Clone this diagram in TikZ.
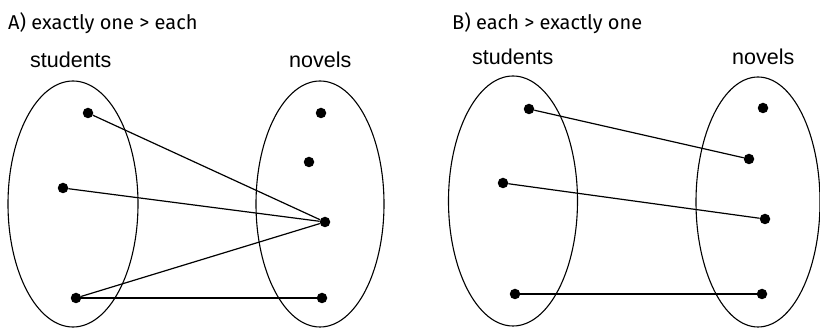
\documentclass[tikz,border=0pt]{standalone}
\usepackage{fontspec}
\setmainfont{Liberation Sans}
\newfontfamily\titlefont{Fira Sans}
\usepackage{tikz}

\begin{document}
\begin{tikzpicture}[
      x=1pt, y=-1pt,
      heading/.style={anchor=base west, inner sep=0pt, font=\titlefont\fontsize{20}{22}\selectfont},
      setname/.style={anchor=base west, inner sep=0pt, font=\fontsize{21.5}{24}\selectfont},
      setline/.style={line width=1.1pt},
      dot/.style={circle, fill=black, inner sep=0pt, minimum size=10.5pt},
      link/.style={line width=1.2pt}
  ]
    \useasboundingbox (0,0) rectangle (820,328);
    % panel A
    \node[heading] (titleA) at (8,30) {A) exactly one > each};
    \node[setname] (studA) at (30,68) {students};
    \node[setname] (novA) at (289,68) {novels};
    \draw[setline] (73,204) ellipse [x radius=65, y radius=123];
    \draw[setline] (320,204) ellipse [x radius=64, y radius=123];
    \node[dot] (sA1) at (88,113) {};
    \node[dot] (sA2) at (63,188) {};
    \node[dot] (sA3) at (76,298) {};
    \node[dot] (nA1) at (321,113) {};
    \node[dot] (nA2) at (309,162) {};
    \node[dot] (nA3) at (325,222) {};
    \node[dot] (nA4) at (322,298) {};
    \draw[link] (sA1) -- (nA3);
    \draw[link] (sA2) -- (nA3);
    \draw[link] (sA3) -- (nA3);
    \draw[link] (sA3) -- (nA4);
    % panel B
    \node[heading] (titleB) at (452,30) {B) each > exactly one};
    \node[setname] (studB) at (472,65) {students};
    \node[setname] (novB) at (732,65) {novels};
    \draw[setline] (513,201) ellipse [x radius=64.5, y radius=125];
    \draw[setline] (758,202) ellipse [x radius=62, y radius=125];
    \node[dot] (sB1) at (529,109) {};
    \node[dot] (sB2) at (503,183) {};
    \node[dot] (sB3) at (515,294) {};
    \node[dot] (nB1) at (763,108) {};
    \node[dot] (nB2) at (749,159) {};
    \node[dot] (nB3) at (765,219) {};
    \node[dot] (nB4) at (762,294) {};
    \draw[link] (sB1) -- (nB2);
    \draw[link] (sB2) -- (nB3);
    \draw[link] (sB3) -- (nB4);
  \end{tikzpicture}
\end{document}
